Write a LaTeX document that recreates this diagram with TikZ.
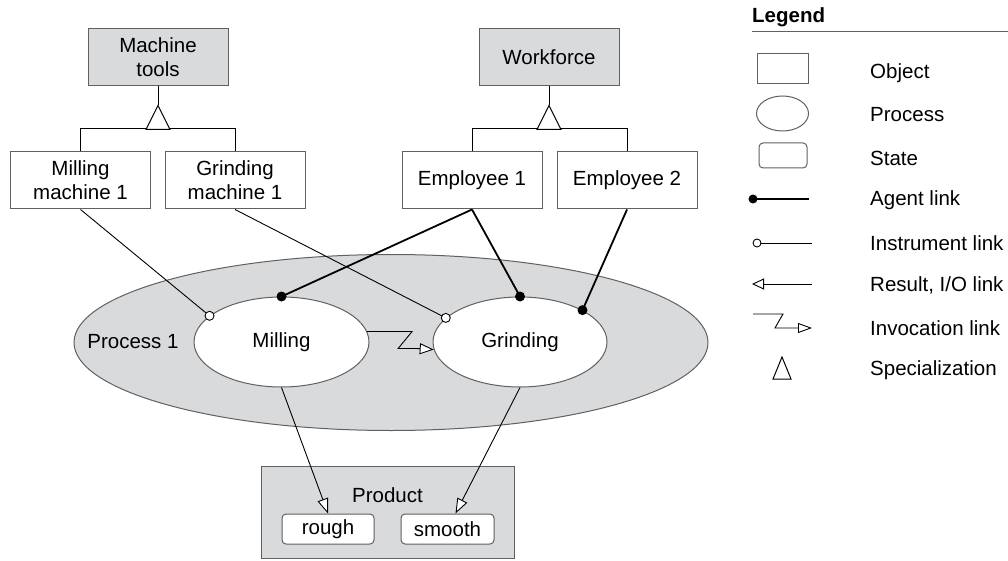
\documentclass[tikz,border=0pt]{standalone}
\usepackage{fontspec}
\setmainfont{Liberation Sans}
\usetikzlibrary{shapes.geometric,arrows.meta,calc}
\definecolor{shade}{HTML}{D9DADC}
\definecolor{rim}{HTML}{606060}
\begin{document}
\begin{tikzpicture}[x=1pt,y=-1pt,
  every node/.style={font=\fontsize{20.5}{24}\selectfont, inner sep=0pt},
  object/.style={draw=rim, line width=1pt, rectangle, align=center},
  toplevel/.style={object, fill=shade, minimum width=140pt, minimum height=57pt},
  subobj/.style={object, fill=white, minimum width=140pt, minimum height=57pt},
  process/.style={draw=rim, line width=1pt, ellipse, fill=white},
  statebox/.style={draw=rim, line width=1pt, rounded corners=4pt, fill=white},
  agent/.style={line width=1.8pt},
  instrument/.style={line width=0.9pt},
  agentdot/.style={fill=black},
  instdot/.style={draw=black, line width=0.9pt, fill=white},
  result/.style={line width=0.9pt, -{Triangle[fill=white, length=15pt, width=11pt]}},
  invoc/.style={line width=0.9pt, -{Triangle[fill=white, length=14pt, width=11pt]}},
  special/.style={line width=1pt, draw=black},
  legtext/.style={anchor=west},
]
\useasboundingbox (0,0) rectangle (1008,561);

% ---- top-level objects and their specializations
\node[toplevel] (mt) at (158,57.5) {Machine\\tools};
\node[toplevel] (wf) at (549,57.5) {Workforce};
\node[subobj] (mm1) at (80.5,180.5) {Milling\\machine 1};
\node[subobj] (gm1) at (235,180.5) {Grinding\\machine 1};
\node[subobj] (e1) at (472,180.5) {Employee 1};
\node[subobj] (e2) at (627,180.5) {Employee 2};

\coordinate (mtapex) at ($(mt.south)+(0,19)$);
\coordinate (wfapex) at ($(wf.south)+(0,19)$);
\draw[special] (mt.south) -- (mtapex);
\draw[special] (mm1.north) -- ++(0,-23) -| (gm1.north);
\draw[special, fill=white] (mtapex) -- ++(-12,24) -- ++(24,0) -- cycle;
\draw[special] (wf.south) -- (wfapex);
\draw[special] (e1.north) -- ++(0,-23) -| (e2.north);
\draw[special, fill=white] (wfapex) -- ++(-12,24) -- ++(24,0) -- cycle;

% ---- enclosing process with its sub-processes
\node[process, fill=shade, minimum width=634pt, minimum height=176pt] (p1) at (391,342.5) {};
\node (p1label) at (133,342) {Process 1};
\node[process, minimum width=175pt, minimum height=90pt] (mill) at (281.5,342) {Milling};
\node[process, minimum width=174pt, minimum height=90pt] (grind) at (520,342) {Grinding};

% ---- product with its states
\node[object, fill=shade, minimum width=253pt, minimum height=92pt] (prod) at (387.5,512) {};
\node (prodlabel) at (387.5,495) {Product};
\node[statebox, minimum width=92pt, minimum height=30pt] (rough) at (328,529) {rough};
\node[statebox, minimum width=93pt, minimum height=30pt] (smooth) at (447.5,529) {smooth};

% ---- instrument links
\draw[instrument] (mm1.south) -- (mill.160);
\draw[instrument] (gm1.south) -- (grind.162);
\draw[instdot] (mill.160) circle (4.5pt);
\draw[instdot] (grind.162) circle (4.5pt);

% ---- agent links
\draw[agent] (e1.south) -- (mill.north);
\draw[agent] (e1.south) -- (grind.north);
\draw[agent] (e2.south) -- (grind.27);
\fill[agentdot] (mill.north) circle (5pt);
\fill[agentdot] (grind.north) circle (5pt);
\fill[agentdot] (grind.27) circle (5pt);

% ---- invocation link
\draw[invoc] (mill.7) -- ++(45,0) -- ++(-14,17) -- ++(18,0) -- (grind.185);

% ---- result links
\draw[result] (mill.south) -- (rough.north);
\draw[result] (grind.south) -- ([xshift=8pt]smooth.north);

% ---- legend
\node[anchor=west, font=\fontsize{20.5}{24}\selectfont\bfseries] (legtitle) at (752,17) {Legend};
\draw[rim, line width=1pt] (752,32) -- (1008,32);

\node[object, minimum width=51pt, minimum height=30pt] (lgobj) at (782.5,69) {};
\node[process, minimum width=52pt, minimum height=35pt] (lgproc) at (782.5,113.5) {};
\node[statebox, minimum width=48pt, minimum height=25pt] (lgstate) at (783,155.5) {};

\coordinate (agA) at (753,199);
\coordinate (agB) at (809,199);
\draw[agent] (agA) -- (agB);
\fill[agentdot] (agA) circle (4.5pt);

\coordinate (inA) at (757,243);
\coordinate (inB) at (812,243);
\draw[instrument] ($(inA)+(4,0)$) -- (inB);
\draw[instdot] (inA) circle (4pt);

\coordinate (reA) at (812,284);
\coordinate (reB) at (752,284);
\draw[line width=0.9pt, -{Triangle[fill=white, length=12pt, width=11pt]}] (reA) -- (reB);

\coordinate (ivA) at (753,314);
\coordinate (ivB) at (812,328);
\draw[line width=0.9pt, -{Triangle[fill=white, length=14pt, width=10pt]}] (ivA) -- (783,314) -- (775,328) -- (ivB);

\draw[special, fill=white] (782,357) -- (773,379) -- (791,379) -- cycle;

\node[legtext] (tObj) at (870,73) {Object};
\node[legtext] (tProc) at (870,115) {Process};
\node[legtext] (tState) at (870,158) {State};
\node[legtext] (tAgent) at (870,200) {Agent link};
\node[legtext] (tInst) at (870,243) {Instrument link};
\node[legtext] (tRes) at (870,285) {Result, I/O link};
\node[legtext] (tInv) at (870,328) {Invocation link};
\node[legtext] (tSpec) at (870,370) {Specialization};
\end{tikzpicture}
\end{document}
